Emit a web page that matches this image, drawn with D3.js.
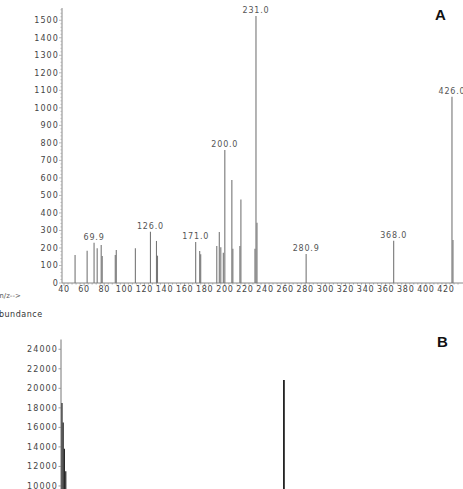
<!DOCTYPE html>
<html>
<head>
<meta charset="utf-8">
<script src="https://cdn.jsdelivr.net/npm/d3@7"></script>
<style>
  body { margin: 0; background: #fff; }
  svg { display: block; }
</style>
</head>
<body>
<div id="chart"></div>
<script>
// Panel A: mass spectrum (m/z vs abundance)
var mzA = [51, 63, 69.9, 73, 77, 78, 91, 92, 111, 126, 132, 133, 171, 175, 176,
  192, 194.5, 196, 198.5, 200, 207, 208, 215, 216, 230, 231, 232, 280.9, 368, 426, 427];
var abundA = [160, 184, 230, 198, 217, 154, 160, 188, 198, 292, 240, 156, 234, 183, 164,
  211, 291, 204, 173, 760, 588, 196, 211, 477, 196, 1525, 344, 165, 241, 1063, 245];
var peakLabelsA = ["69.9", "126.0", "171.0", "200.0", "231.0", "280.9", "368.0", "426.0"];
var yTicksA = d3.range(0, 1600, 100);
var xTicksA = d3.range(40, 440, 20);

// Panel B: chromatogram sticks (time vs abundance)
var timeB = [5.05, 5.11, 5.17, 5.24, 16.23];
var abundB = [18500, 16500, 13800, 11500, 20850];
var yTicksB = d3.range(0, 26000, 2000);

var W = 463, H = 489;
var fontFam = "DejaVu Sans, sans-serif";

var svg = d3.select("#chart").append("svg")
  .attr("width", W)
  .attr("height", H);

// ---------- panel A ----------
var xA = d3.scaleLinear().domain([38, 432]).range([62, 458]);
var yA = d3.scaleLinear().domain([0, 1570]).range([283, 8]);

var gA = svg.append("g");

// y axis line + ticks
gA.append("line")
  .attr("x1", 62).attr("x2", 62)
  .attr("y1", yA(1570)).attr("y2", yA(0))
  .attr("stroke", "#888").attr("stroke-width", 1);

gA.selectAll(".yminA")
  .data(d3.range(0, 1570, 20))
  .enter().append("line")
  .attr("x1", d => d % 100 === 0 ? 59 : 60.5).attr("x2", 62)
  .attr("y1", d => yA(d)).attr("y2", d => yA(d))
  .attr("stroke", "#aaa").attr("stroke-width", 0.8);

gA.selectAll(".ytA")
  .data(yTicksA)
  .enter().append("text")
  .attr("x", 59)
  .attr("y", d => yA(d))
  .attr("dy", "0.35em")
  .attr("text-anchor", "end")
  .attr("font-family", fontFam)
  .attr("font-size", 8)
  .attr("letter-spacing", 1.1)
  .attr("fill", "#444")
  .text(d => d);

// x axis line + ticks
gA.append("line")
  .attr("x1", 62).attr("x2", W)
  .attr("y1", yA(0)).attr("y2", yA(0))
  .attr("stroke", "#888").attr("stroke-width", 1);

gA.selectAll(".xminA")
  .data(d3.range(40, 436, 4))
  .enter().append("line")
  .attr("x1", d => xA(d)).attr("x2", d => xA(d))
  .attr("y1", yA(0))
  .attr("y2", d => yA(0) + (d % 20 === 0 ? 3 : 1.5))
  .attr("stroke", "#999").attr("stroke-width", 0.8);

gA.selectAll(".xtA")
  .data(xTicksA)
  .enter().append("text")
  .attr("x", d => xA(d))
  .attr("y", yA(0) + 9)
  .attr("text-anchor", "middle")
  .attr("font-family", fontFam)
  .attr("font-size", 8)
  .attr("letter-spacing", 0.7)
  .attr("fill", "#444")
  .text(d => d);

// sticks
gA.selectAll(".stickA")
  .data(mzA)
  .enter().append("line")
  .attr("x1", d => xA(d)).attr("x2", d => xA(d))
  .attr("y1", yA(0))
  .attr("y2", (d, i) => yA(abundA[i]))
  .attr("stroke", "#777")
  .attr("stroke-width", 1.1);

// peak labels
gA.selectAll(".plA")
  .data(peakLabelsA)
  .enter().append("text")
  .attr("x", d => xA(+d))
  .attr("y", d => yA(abundA[mzA.indexOf(+d)]) - 3)
  .attr("text-anchor", "middle")
  .attr("font-family", fontFam)
  .attr("font-size", 8)
  .attr("letter-spacing", 0.8)
  .attr("fill", "#555")
  .text(d => d);

svg.append("text")
  .attr("x", -3).attr("y", 298)
  .attr("font-family", fontFam)
  .attr("font-size", 7)
  .attr("fill", "#555")
  .text("m/z-->");

svg.append("text")
  .attr("x", 435).attr("y", 20)
  .attr("font-family", "Liberation Sans, Arial, sans-serif")
  .attr("font-weight", "bold")
  .attr("font-size", 15)
  .attr("fill", "#111")
  .text("A");

// ---------- panel B ----------
var xB = d3.scaleLinear().domain([5, 25]).range([61, 458]);
var yB = d3.scaleLinear().domain([0, 25000]).range([583.6, 339.5]);

var gB = svg.append("g");

svg.append("text")
  .attr("x", -7).attr("y", 317)
  .attr("font-family", fontFam)
  .attr("font-size", 8)
  .attr("letter-spacing", 0.5)
  .attr("fill", "#333")
  .text("Abundance");

gB.append("line")
  .attr("x1", 61).attr("x2", 61)
  .attr("y1", yB(25000)).attr("y2", H)
  .attr("stroke", "#777").attr("stroke-width", 1);

gB.selectAll(".tickB")
  .data(yTicksB)
  .enter().append("line")
  .attr("x1", 58.5).attr("x2", 61)
  .attr("y1", d => yB(d)).attr("y2", d => yB(d))
  .attr("stroke", "#888").attr("stroke-width", 0.8);

gB.selectAll(".ytB")
  .data(yTicksB)
  .enter().append("text")
  .attr("x", 58)
  .attr("y", d => yB(d))
  .attr("dy", "0.35em")
  .attr("text-anchor", "end")
  .attr("font-family", fontFam)
  .attr("font-size", 8)
  .attr("letter-spacing", 1.1)
  .attr("fill", "#444")
  .text(d => d);

gB.selectAll(".stickB")
  .data(timeB)
  .enter().append("line")
  .attr("x1", d => xB(d)).attr("x2", d => xB(d))
  .attr("y1", H)
  .attr("y2", (d, i) => yB(abundB[i]))
  .attr("stroke", "#222")
  .attr("stroke-width", (d, i) => i === 4 ? 1.8 : 1.2);

svg.append("text")
  .attr("x", 437).attr("y", 347)
  .attr("font-family", "Liberation Sans, Arial, sans-serif")
  .attr("font-weight", "bold")
  .attr("font-size", 15)
  .attr("fill", "#111")
  .text("B");
</script>
</body>
</html>
